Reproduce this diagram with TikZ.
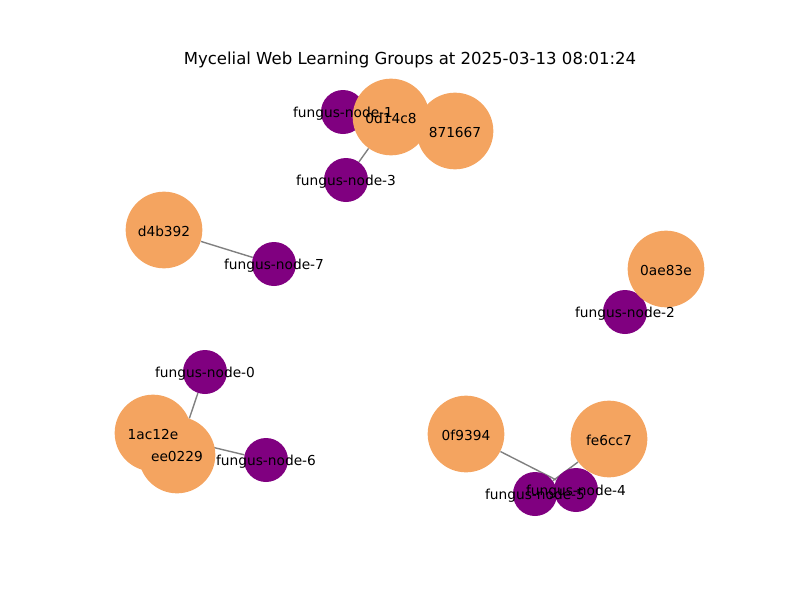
\documentclass[tikz,border=0pt]{standalone}
\usepackage{fontspec}
\setmainfont{DejaVu Sans}
\usetikzlibrary{backgrounds}
\definecolor{sandy}{HTML}{F4A460}
\definecolor{fungus}{HTML}{800080}
\begin{document}
\begin{tikzpicture}[x=0.75pt,y=-0.75pt,
        group node/.style={circle,fill=sandy,minimum size=57.5pt,inner sep=0pt},
        fungus node/.style={circle,fill=fungus,minimum size=33pt,inner sep=0pt},
        name node/.style={font=\fontsize{10.3}{12}\selectfont,inner sep=0pt,yshift=-1.2pt}]

      \useasboundingbox (0,0) rectangle (800,600);
      \node[font=\fontsize{12.4}{14}\selectfont] (title) at (410,59.5) {Mycelial Web Learning Groups at 2025-03-13 08:01:24};

      % fungus nodes
      \node[fungus node] (f0) at (205,372) {};
      \node[fungus node] (f1) at (343,112) {};
      \node[fungus node] (f2) at (625,312) {};
      \node[fungus node] (f3) at (346,180) {};
      \node[fungus node] (f5) at (535,494) {};
      \node[fungus node] (f4) at (576,490) {};
      \node[fungus node] (f6) at (266,460) {};
      \node[fungus node] (f7) at (274,264) {};

      % learning groups
      \node[group node] (g0d14c8) at (391,117) {};
      \node[group node] (g871667) at (455,131) {};
      \node[group node] (gd4b392) at (164,230) {};
      \node[group node] (g0ae83e) at (666,269) {};
      \node[group node] (g1ac12e) at (153,433) {};
      \node[group node] (gee0229) at (177,455) {};
      \node[group node] (g0f9394) at (466,434) {};
      \node[group node] (gfe6cc7) at (609,439) {};

      \begin{scope}[on background layer]
        \path[draw=gray,line width=1.05pt]
          (f0) edge (gee0229)
          (f1) edge (g871667)
          (f2) edge (g0ae83e)
          (f3) edge (g0d14c8)
          (f4) edge (g0f9394)
          (f5) edge (gfe6cc7)
          (f6) edge (g1ac12e)
          (f7) edge (gd4b392);
      \end{scope}

      % labels on top
      \node[name node] (l0) at (f0) {fungus-node-0};
      \node[name node] (l1) at (f1) {fungus-node-1};
      \node[name node] (l2) at (f2) {fungus-node-2};
      \node[name node] (l3) at (f3) {fungus-node-3};
      \node[name node] (l4) at (f4) {fungus-node-4};
      \node[name node] (l5) at (f5) {fungus-node-5};
      \node[name node] (l6) at (f6) {fungus-node-6};
      \node[name node] (l7) at (f7) {fungus-node-7};
      \node[name node] (l0d14c8) at (g0d14c8) {0d14c8};
      \node[name node] (l871667) at (g871667) {871667};
      \node[name node] (ld4b392) at (gd4b392) {d4b392};
      \node[name node] (l0ae83e) at (g0ae83e) {0ae83e};
      \node[name node] (l1ac12e) at (g1ac12e) {1ac12e};
      \node[name node] (lee0229) at (gee0229) {ee0229};
      \node[name node] (l0f9394) at (g0f9394) {0f9394};
      \node[name node] (lfe6cc7) at (gfe6cc7) {fe6cc7};
    \end{tikzpicture}
\end{document}
